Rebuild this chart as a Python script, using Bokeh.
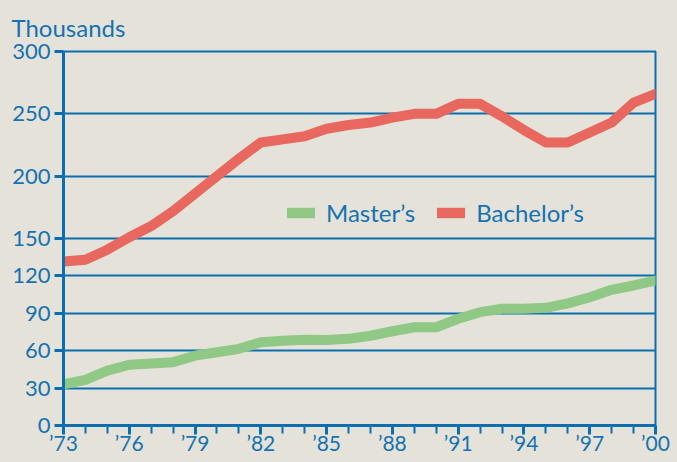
from bokeh.plotting import figure
from bokeh.models import FixedTicker, Range1d, Legend, LegendItem, ColumnDataSource
from bokeh.embed import file_html
from bokeh.resources import INLINE

years = list(range(1973, 2001))
bachelors = [131.5, 133, 141, 151, 160, 172, 186, 200, 214, 227, 229.5, 232, 238, 241, 243,
             247, 250, 250, 258, 258, 248, 237, 227, 227, 235, 243, 259, 266]
masters = [33, 36.6, 44, 48.7, 49.7, 50.8, 56, 58.8, 61.5, 66.8, 68, 68.7, 68.5, 69.5, 72,
           75.6, 78.8, 78.8, 85.6, 90.9, 93.6, 93.6, 94.4, 98, 102.9, 108.8, 112.3, 116.3]
y_ticks = [0, 30, 60, 90, 120, 150, 200, 250, 300]
x_ticks = [1973, 1976, 1979, 1982, 1985, 1988, 1991, 1994, 1997, 2000]
x_tick_labels = ["’73", "’76", "’79", "’82", "’85", "’88", "’91", "’94", "’97", "’00"]
series_names = ["Master’s", "Bachelor’s"]
unit_label = "Thousands"

BG = "#e5e3d9"
BLUE = "#0a6eaf"
TEXT = "#1672b2"
RED = "#e86860"
GREEN = "#90c886"
FONT = "Lato"

p = figure(width=677, height=462, output_backend="svg", toolbar_location=None,
           x_range=Range1d(1973, 2000), y_range=Range1d(0, 300),
           min_border_left=63, min_border_right=22, min_border_top=51, min_border_bottom=37)
p.background_fill_color = BG
p.border_fill_color = BG
p.outline_line_color = BLUE
p.outline_line_width = 2

p.title.text = unit_label
p.title.align = "left"
p.title.text_font = FONT
p.title.text_font_size = "24px"
p.title.text_font_style = "normal"
p.title.text_color = TEXT
p.title.offset = -52
p.title.standoff = 19

# axes
xa = p.xaxis[0]
xa.ticker = FixedTicker(ticks=x_ticks, minor_ticks=years)
xa.major_label_overrides = {t: l for t, l in zip(x_ticks, x_tick_labels)}
ya = p.yaxis[0]
ya.ticker = FixedTicker(ticks=y_ticks)
for ax in (xa, ya):
    ax.axis_line_color = BLUE
    ax.axis_line_width = 3
    ax.major_tick_line_color = BLUE
    ax.major_tick_line_width = 3
    ax.major_tick_in = 0
    ax.major_tick_out = 9
    ax.minor_tick_line_color = BLUE
    ax.minor_tick_line_width = 2
    ax.minor_tick_in = 0
    ax.minor_tick_out = 8
    ax.major_label_text_font = FONT
    ax.major_label_text_color = TEXT
xa.major_label_text_font_size = "21px"
ya.major_label_text_font_size = "22px"
xa.major_label_standoff = -5
ya.major_label_standoff = 4
ya.minor_tick_line_color = None

p.xgrid.visible = False
p.ygrid.ticker = FixedTicker(ticks=y_ticks)
p.ygrid.grid_line_color = BLUE
p.ygrid.grid_line_width = 2

src = ColumnDataSource(dict(year=years, bachelors=bachelors, masters=masters))
p.line("year", "masters", source=src, line_color=GREEN, line_width=10,
       line_cap="round", line_join="round")
p.line("year", "bachelors", source=src, line_color=RED, line_width=10,
       line_cap="round", line_join="round")

# legend swatches (rectangles, off-view)
sw_g = p.quad(left=[1980], right=[1981], bottom=[-20], top=[-10], fill_color=GREEN, line_color=None)
sw_r = p.quad(left=[1980], right=[1981], bottom=[-20], top=[-10], fill_color=RED, line_color=None)
legend = Legend(items=[LegendItem(label=series_names[0], renderers=[sw_g]),
                       LegendItem(label=series_names[1], renderers=[sw_r])],
                orientation="horizontal", location=(220, 198),
                glyph_width=35, glyph_height=13, label_standoff=8, spacing=18,
                padding=0, margin=0, border_line_color=None, background_fill_alpha=0,
                label_text_font=FONT, label_text_font_size="24px", label_text_color=TEXT)
p.add_layout(legend, "center")

html = file_html(p, INLINE)
html = html.replace("<head>", "<head><style>html,body{background:%s;}</style>" % BG, 1)
open("out.html", "w").write(html)
